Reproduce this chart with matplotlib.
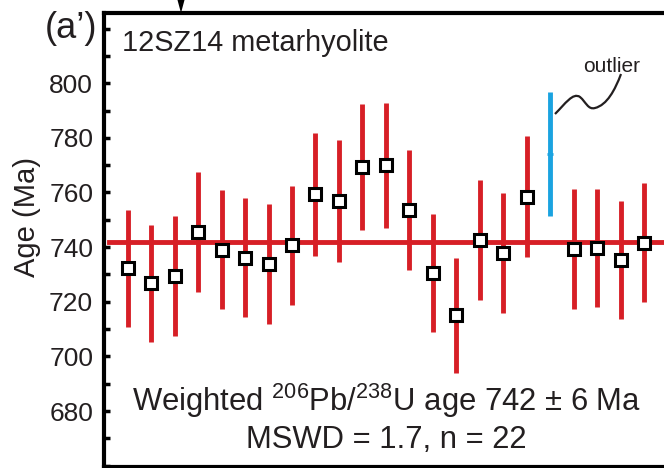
import matplotlib.pyplot as plt
from matplotlib.path import Path
from matplotlib.patches import PathPatch, Polygon
from matplotlib.ticker import MultipleLocator

plt.rcParams['font.family'] = ['Liberation Sans', 'DejaVu Sans']
plt.rcParams['mathtext.fontset'] = 'custom'
plt.rcParams['mathtext.rm'] = 'Liberation Sans'
plt.rcParams['mathtext.it'] = 'Liberation Sans'

# spot ages (Ma) and 2 sigma errors, 12SZ14
age = [732.2, 726.8, 729.5, 745.5, 739.0, 736.1, 733.9, 740.6, 759.3, 756.8, 769.3,
       769.9, 753.5, 730.6, 715.0, 742.6, 737.9, 758.4, 739.3, 739.6, 735.1, 741.6]
err = [21.5, 21.4, 22.0, 22.0, 21.8, 21.7, 22.0, 21.8, 22.5, 22.4, 23.0,
       23.0, 22.0, 21.5, 21.0, 21.8, 22.0, 22.2, 21.8, 21.7, 21.6, 21.8]
pos = [1, 2, 3, 4, 5, 6, 7, 8, 9, 10, 11, 12, 13, 14, 15, 16, 17, 18, 20, 21, 22, 23]

outlier_pos = 19
outlier_age = 774.0
outlier_err = 22.7

mean_age = 742.0

red = '#d71f26'
blue = '#1aa3e0'
ink = '#231f20'

W, H = 664, 468


def px(x, y):
    # figure pixel (from top-left) -> figure fraction
    return (x / W, 1 - y / H)


fig = plt.figure(figsize=(6.64, 4.68), dpi=100)
# frame: left 104.3, top 13.3, bottom 467, right spine pushed off the edge
ax = fig.add_axes([104.3 / W, 1 - 467 / H, (667 - 104.3) / W, (467 - 13.3) / H])

ax.axhline(mean_age, xmin=0.0084, xmax=1, color=red, lw=3.5, zorder=2)
ax.errorbar(pos, age, yerr=err, fmt='none', ecolor=red, elinewidth=3.5, capsize=0, zorder=3)
ax.errorbar([outlier_pos], [outlier_age], yerr=[outlier_err], fmt='none', ecolor=blue,
            elinewidth=3.5, capsize=0, zorder=3)
ax.plot([outlier_pos], [outlier_age], marker='_', color=blue, ms=4, mew=2, zorder=3)
ax.plot(pos, age, ls='none', marker='s', ms=9, mfc='white', mec='black', mew=2.2, zorder=4)

ax.set_xlim(0, 23.98)
ax.set_ylim(659.5, 825.6)
ax.yaxis.set_major_locator(MultipleLocator(20))
ax.yaxis.set_minor_locator(MultipleLocator(10))
ax.set_yticks(range(680, 801, 20))
ax.set_xticks([])
ax.tick_params(axis='y', which='both', direction='in', length=4, width=2.5, pad=8,
               labelsize=19, labelcolor=ink)
for s in ax.spines.values():
    s.set_linewidth(3)
    s.set_color('black')

fig.text(*px(27, 217), 'Age (Ma)', rotation=90, fontsize=21, color=ink,
         ha='center', va='center')

fig.text(*px(122, 43), '12SZ14 metarhyolite', fontsize=20.8, color=ink,
         ha='left', va='center')
fig.text(*px(45, 28), '(a\u2019)', fontsize=26, color=ink, ha='left', va='center')

fig.text(*px(386.5, 411), 'Weighted $^{206}$Pb/$^{238}$U age 742 \u00b1 6 Ma',
         fontsize=22.3, color=ink, ha='center', va='baseline')
fig.text(*px(386.5, 448), 'MSWD = 1.7, n = 22',
         fontsize=22.3, color=ink, ha='center', va='baseline')

# outlier label with wavy leader
fig.text(*px(611.5, 66), 'outlier', fontsize=15, color=ink, ha='center', va='center')
wave = [px(555, 114), px(565, 104), px(573, 92), px(580, 97),
        px(586, 102), px(588, 110), px(595, 108),
        px(607, 105), px(615, 90), px(621, 74)]
codes = [Path.MOVETO] + [Path.CURVE4] * 9
fig.add_artist(PathPatch(Path(wave, codes), transform=fig.transFigure, fill=False,
                         ec=ink, lw=1.6))

# small arrow touching the top frame
fig.add_artist(Polygon([px(177.5, 0), px(184.5, 0), px(181, 13)], closed=True,
                       transform=fig.transFigure, fc='black', ec='none'))

fig.savefig('out.png', dpi=100)
